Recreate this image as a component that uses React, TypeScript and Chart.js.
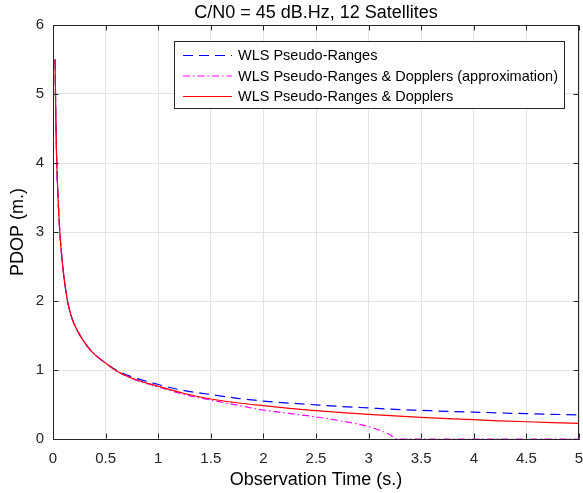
import React, { useEffect, useRef } from "react";
import { Chart, registerables } from "chart.js";

Chart.register(...registerables);

const titleText = "C/N0 = 45 dB.Hz, 12 Satellites";
const xAxisTitle = "Observation Time (s.)";
const yAxisTitle = "PDOP (m.)";

const xTickValues = [0, 0.5, 1, 1.5, 2, 2.5, 3, 3.5, 4, 4.5, 5];
const xTickLabels = ["0", "0.5", "1", "1.5", "2", "2.5", "3", "3.5", "4", "4.5", "5"];
const yTickValues = [0, 1, 2, 3, 4, 5, 6];
const yTickLabels = ["0", "1", "2", "3", "4", "5", "6"];

const seriesLabels = [
  "WLS Pseudo-Ranges",
  "WLS Pseudo-Ranges & Dopplers (approximation)",
  "WLS Pseudo-Ranges & Dopplers",
];

const timeS = [
  0.02, 0.025, 0.03, 0.035, 0.04, 0.05, 0.065, 0.08, 0.1, 0.12, 0.14, 0.17, 0.2,
  0.25, 0.3, 0.35, 0.4, 0.5, 0.6, 0.75, 1.0, 1.25, 1.5, 1.75, 2.0, 2.25, 2.5,
  2.75, 3.0, 3.25, 3.5, 3.75, 4.0, 4.25, 4.5, 4.75, 5.0,
];

const pdopPseudoRanges = [
  5.5, 4.85, 4.4, 4.05, 3.8, 3.42, 3.0, 2.7, 2.4, 2.17, 1.98, 1.8, 1.67, 1.52,
  1.4, 1.3, 1.22, 1.1, 1.0, 0.9, 0.79, 0.7, 0.645, 0.59, 0.55, 0.52, 0.495, 0.47,
  0.45, 0.43, 0.415, 0.4, 0.39, 0.378, 0.367, 0.357, 0.35,
];

const pdopDopplers = [
  5.5, 4.85, 4.4, 4.05, 3.8, 3.42, 3.0, 2.7, 2.4, 2.17, 1.98, 1.8, 1.67, 1.52,
  1.4, 1.3, 1.22, 1.1, 0.99, 0.88, 0.765, 0.66, 0.58, 0.525, 0.483, 0.445, 0.41,
  0.383, 0.358, 0.335, 0.314, 0.296, 0.28, 0.264, 0.25, 0.238, 0.227,
];

const timeApprox = [
  0.02, 0.025, 0.03, 0.035, 0.04, 0.05, 0.065, 0.08, 0.1, 0.12, 0.14, 0.17, 0.2,
  0.25, 0.3, 0.35, 0.4, 0.5, 0.6, 0.75, 1.0, 1.25, 1.5, 1.75, 2.0, 2.25, 2.5,
  2.75, 3.0, 3.1, 3.2, 3.27, 3.5, 4.0, 4.5, 5.0,
];

const pdopApprox = [
  5.5, 4.85, 4.4, 4.05, 3.8, 3.42, 3.0, 2.7, 2.4, 2.17, 1.98, 1.8, 1.67, 1.52,
  1.4, 1.3, 1.22, 1.1, 0.99, 0.875, 0.755, 0.645, 0.565, 0.49, 0.42, 0.37, 0.32,
  0.26, 0.18, 0.13, 0.065, 0, 0, 0, 0, 0,
];

const FONT = '"Liberation Sans", Arial, Helvetica, sans-serif';
const AXIS_COLOR = "#262626";

const decorPlugin = {
  id: "matlabDecor",
  afterDraw(chart: any) {
    const { ctx, chartArea, scales } = chart;
    const { left, right, top, bottom } = chartArea;
    const xs = scales.x;
    const ys = scales.y;
    ctx.save();

    ctx.strokeStyle = AXIS_COLOR;
    ctx.lineWidth = 1;
    const L = Math.round(left) + 0.5;
    const R = Math.round(right) - 0.5;
    const T = Math.round(top) + 0.5;
    const B = Math.round(bottom) - 0.5;
    ctx.beginPath();
    ctx.moveTo(L, T);
    ctx.lineTo(R, T);
    ctx.lineTo(R, B);
    ctx.stroke();

    const tl = 5;
    ctx.beginPath();
    for (const v of xTickValues) {
      const px = Math.round(xs.getPixelForValue(v)) + 0.5;
      ctx.moveTo(px, B);
      ctx.lineTo(px, B - tl);
      ctx.moveTo(px, T);
      ctx.lineTo(px, T + tl);
    }
    for (const v of yTickValues) {
      const py = Math.round(ys.getPixelForValue(v)) + 0.5;
      ctx.moveTo(L, py);
      ctx.lineTo(L + tl, py);
      ctx.moveTo(R, py);
      ctx.lineTo(R - tl, py);
    }
    ctx.stroke();

    ctx.fillStyle = "#000";
    ctx.font = `18px ${FONT}`;
    ctx.textAlign = "center";
    ctx.textBaseline = "middle";
    ctx.fillText(titleText, (left + right) / 2, 13.5);

    const bx = 174.5, by = 41.5, bw = 390, bh = 67;
    ctx.fillStyle = "#fff";
    ctx.fillRect(bx, by, bw, bh);
    ctx.strokeStyle = AXIS_COLOR;
    ctx.lineWidth = 1;
    ctx.setLineDash([]);
    ctx.strokeRect(bx, by, bw, bh);
    const rowsY = [55.5, 76, 96.5];
    chart.data.datasets.forEach((ds: any, i: number) => {
      const yy = rowsY[i];
      ctx.save();
      ctx.strokeStyle = ds.borderColor;
      ctx.lineWidth = ds.borderWidth;
      ctx.setLineDash(ds.borderDash || []);
      ctx.beginPath();
      ctx.moveTo(183, yy);
      ctx.lineTo(232, yy);
      ctx.stroke();
      ctx.restore();
      ctx.fillStyle = "#000";
      ctx.font = `14.5px ${FONT}`;
      ctx.textAlign = "left";
      ctx.textBaseline = "middle";
      ctx.fillText(ds.label, 238, yy + 0.5);
    });

    ctx.restore();
  },
};

export default function App() {
  const canvasRef = useRef<HTMLCanvasElement | null>(null);

  useEffect(() => {
    document.body.style.margin = "0";
    const canvas = canvasRef.current;
    if (!canvas) return;

    const toPoints = (xsArr: number[], ysArr: number[]) =>
      xsArr.map((x, i) => ({ x, y: ysArr[i] }));

    const chart = new Chart(canvas, {
      type: "line",
      data: {
        datasets: [
          {
            label: seriesLabels[0],
            data: toPoints(timeS, pdopPseudoRanges),
            borderColor: "#0000ff",
            borderWidth: 1.2,
            borderDash: [10, 6],
            pointRadius: 0,
            cubicInterpolationMode: "monotone",
            order: 3,
          },
          {
            label: seriesLabels[1],
            data: toPoints(timeApprox, pdopApprox),
            borderColor: "#ff00ff",
            borderWidth: 1.2,
            borderDash: [7, 3, 1.5, 3],
            pointRadius: 0,
            cubicInterpolationMode: "monotone",
            order: 2,
          },
          {
            label: seriesLabels[2],
            data: toPoints(timeS, pdopDopplers),
            borderColor: "#ff0000",
            borderWidth: 1.2,
            pointRadius: 0,
            cubicInterpolationMode: "monotone",
            order: 1,
          },
        ],
      },
      options: {
        animation: false,
        responsive: false,
        maintainAspectRatio: false,
        layout: { padding: { top: 25, right: 4, left: 0, bottom: 0 } },
        plugins: {
          legend: { display: false },
          title: { display: false },
          tooltip: { enabled: false },
        },
        scales: {
          x: {
            type: "linear",
            min: 0,
            max: 5,
            afterBuildTicks: (scale: any) => {
              scale.ticks = xTickValues.map((v) => ({ value: v }));
            },
            afterFit: (scale: any) => {
              scale.height = 54;
              scale.paddingLeft = 0;
              scale.paddingRight = 0;
            },
            grid: { color: "#e3e3e3", lineWidth: 1, drawTicks: false },
            border: { display: true, color: AXIS_COLOR, width: 1 },
            ticks: {
              padding: 11,
              color: AXIS_COLOR,
              font: { family: FONT, size: 15 },
              maxRotation: 0,
              autoSkip: false,
              callback: (_v: any, i: number) => xTickLabels[i],
            },
            title: {
              display: true,
              text: xAxisTitle,
              color: "#000",
              font: { family: FONT, size: 18 },
              padding: { top: 0, bottom: 2 },
            },
          },
          y: {
            type: "linear",
            min: 0,
            max: 6,
            afterBuildTicks: (scale: any) => {
              scale.ticks = yTickValues.map((v) => ({ value: v }));
            },
            afterFit: (scale: any) => {
              scale.width = 53;
              scale.paddingTop = 0;
              scale.paddingBottom = 0;
            },
            grid: { color: "#e3e3e3", lineWidth: 1, drawTicks: false },
            border: { display: true, color: AXIS_COLOR, width: 1 },
            ticks: {
              padding: 9,
              color: AXIS_COLOR,
              font: { family: FONT, size: 15 },
              autoSkip: false,
              callback: (_v: any, i: number) => yTickLabels[i],
            },
            title: {
              display: true,
              text: yAxisTitle,
              color: "#000",
              font: { family: FONT, size: 18 },
              padding: { top: 7, bottom: 0 },
            },
          },
        },
      } as any,
      plugins: [decorPlugin],
    });

    return () => chart.destroy();
  }, []);

  return (
    <div style={{ width: 583, height: 493, position: "relative" }}>
      <canvas ref={canvasRef} width={583} height={493} />
    </div>
  );
}
